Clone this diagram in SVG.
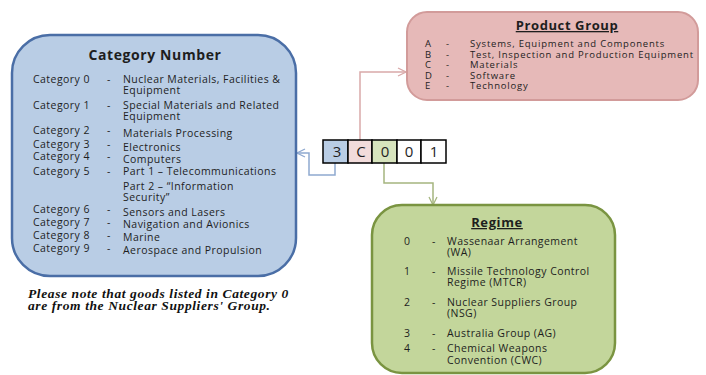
<svg xmlns="http://www.w3.org/2000/svg" width="706" height="375" viewBox="0 0 706 375">
<defs>
<style>
.t{font-family:"Open Sans","Liberation Sans",sans-serif;font-size:10.5px;letter-spacing:0.45px;fill:#1e1e1e}
.tp{font-family:"Open Sans","Liberation Sans",sans-serif;font-size:9.5px;letter-spacing:0.8px;fill:#1e1e1e}
.h{font-family:"Open Sans","Liberation Sans",sans-serif;font-size:14px;font-weight:bold;letter-spacing:0.6px;fill:#1e1e1e;text-anchor:middle}
.u{text-decoration:underline}
.d{font-family:"Open Sans","Liberation Sans",sans-serif;font-size:15px;fill:#1e1e1e;text-anchor:middle}
.cell{stroke:#000;stroke-width:1.5}
.note{font-family:"Liberation Serif","Times New Roman",serif;font-size:13.5px;font-weight:bold;font-style:italic;letter-spacing:0.6px;fill:#111}
.conn{fill:none;stroke-width:1.5}
</style>
<marker id="ab" viewBox="0 0 10 10" refX="9" refY="5" markerWidth="10" markerHeight="10" markerUnits="userSpaceOnUse" orient="auto"><path d="M1,1 L9,5 L1,9" fill="none" stroke="#8fa9d0" stroke-width="1.3"/></marker>
<marker id="ap" viewBox="0 0 10 10" refX="9" refY="5" markerWidth="10" markerHeight="10" markerUnits="userSpaceOnUse" orient="auto"><path d="M1,1 L9,5 L1,9" fill="none" stroke="#d9a9a9" stroke-width="1.3"/></marker>
<marker id="ag" viewBox="0 0 10 10" refX="9" refY="5" markerWidth="10" markerHeight="10" markerUnits="userSpaceOnUse" orient="auto"><path d="M1,1 L9,5 L1,9" fill="none" stroke="#a5b57f" stroke-width="1.3"/></marker>
</defs>
<rect width="706" height="375" fill="#fff"/>

<g id="connectors">
<path class="conn" stroke="#8fa9d0" d="M335,163 V175 H309 V153 H297" marker-end="url(#ab)"/>
<path class="conn" stroke="#d9a9a9" d="M360,140 V72 H406" marker-end="url(#ap)"/>
<path class="conn" stroke="#a5b57f" d="M384,163 V183 H433 V205" marker-end="url(#ag)"/>
</g>

<g id="category-number">
<rect x="12" y="35" width="284" height="241" rx="38" ry="38" fill="#b9cde5" stroke="#4a6ea6" stroke-width="2.5"/>
<text class="h" x="155" y="60">Category Number</text>
<text class="t" x="33" y="83">Category 0</text><text class="t" x="107" y="83">-</text><text class="t" x="123" y="83">Nuclear Materials, Facilities &amp;</text>
<text class="t" x="123" y="94">Equipment</text>
<text class="t" x="33" y="109">Category 1</text><text class="t" x="107" y="109">-</text><text class="t" x="123" y="109">Special Materials and Related</text>
<text class="t" x="123" y="120">Equipment</text>
<text class="t" x="33" y="134">Category 2</text><text class="t" x="107" y="134">-</text><text class="t" x="123" y="137">Materials Processing</text>
<text class="t" x="33" y="148">Category 3</text><text class="t" x="107" y="148">-</text><text class="t" x="123" y="151">Electronics</text>
<text class="t" x="33" y="160">Category 4</text><text class="t" x="107" y="160">-</text><text class="t" x="123" y="163">Computers</text>
<text class="t" x="33" y="175">Category 5</text><text class="t" x="107" y="175">-</text><text class="t" x="123" y="175">Part 1 – Telecommunications</text>
<text class="t" x="123" y="190">Part 2 – “Information</text>
<text class="t" x="123" y="201">Security”</text>
<text class="t" x="33" y="213">Category 6</text><text class="t" x="107" y="213">-</text><text class="t" x="123" y="216">Sensors and Lasers</text>
<text class="t" x="33" y="226">Category 7</text><text class="t" x="107" y="226">-</text><text class="t" x="123" y="228">Navigation and Avionics</text>
<text class="t" x="33" y="239">Category 8</text><text class="t" x="107" y="239">-</text><text class="t" x="123" y="241">Marine</text>
<text class="t" x="33" y="252">Category 9</text><text class="t" x="107" y="252">-</text><text class="t" x="123" y="254">Aerospace and Propulsion</text>
</g>

<g id="note">
<text class="note" x="28" y="298">Please note that goods listed in Category 0</text>
<text class="note" x="28" y="310">are from the Nuclear Suppliers' Group.</text>
</g>

<g id="product-group">
<rect x="407" y="12" width="291" height="88" rx="20" ry="20" fill="#e6b9b8" stroke="#d29b9a" stroke-width="2"/>
<text class="h u" x="567" y="30" style="font-size:13px">Product Group</text>
<text class="tp" x="425" y="47">A</text><text class="tp" x="446" y="47">-</text><text class="tp" x="470" y="47">Systems, Equipment and Components</text>
<text class="tp" x="425" y="57.5">B</text><text class="tp" x="446" y="57.5">-</text><text class="tp" x="470" y="57.5">Test, Inspection and Production Equipment</text>
<text class="tp" x="425" y="68">C</text><text class="tp" x="446" y="68">-</text><text class="tp" x="470" y="68">Materials</text>
<text class="tp" x="425" y="78.5">D</text><text class="tp" x="446" y="78.5">-</text><text class="tp" x="470" y="78.5">Software</text>
<text class="tp" x="425" y="89">E</text><text class="tp" x="446" y="89">-</text><text class="tp" x="470" y="89">Technology</text>
</g>

<g id="regime">
<rect x="372" y="205" width="243" height="168" rx="30" ry="30" fill="#c3d69b" stroke="#7a9441" stroke-width="2.5"/>
<text class="h u" x="497" y="227" style="font-size:13px">Regime</text>
<text class="t" x="404" y="245">0</text><text class="t" x="432" y="245">-</text><text class="t" x="447" y="245">Wassenaar Arrangement</text>
<text class="t" x="447" y="256">(WA)</text>
<text class="t" x="404" y="275">1</text><text class="t" x="432" y="275">-</text><text class="t" x="447" y="275">Missile Technology Control</text>
<text class="t" x="447" y="286">Regime (MTCR)</text>
<text class="t" x="404" y="306">2</text><text class="t" x="432" y="306">-</text><text class="t" x="447" y="306">Nuclear Suppliers Group</text>
<text class="t" x="447" y="317">(NSG)</text>
<text class="t" x="404" y="337">3</text><text class="t" x="432" y="337">-</text><text class="t" x="447" y="337">Australia Group (AG)</text>
<text class="t" x="404" y="352">4</text><text class="t" x="432" y="352">-</text><text class="t" x="447" y="352">Chemical Weapons</text>
<text class="t" x="447" y="364">Convention (CWC)</text>
</g>

<g id="code">
<rect class="cell" x="323" y="140" width="25" height="23" fill="#b9cde5"/>
<rect class="cell" x="348" y="140" width="24" height="23" fill="#f2dcdb"/>
<rect class="cell" x="372" y="140" width="25" height="23" fill="#d7e4bd"/>
<rect class="cell" x="397" y="140" width="24" height="23" fill="#fff"/>
<rect class="cell" x="421" y="140" width="25" height="23" fill="#fff"/>
<text class="d" x="337" y="157">3</text>
<text class="d" x="361" y="157">C</text>
<text class="d" x="385" y="157">0</text>
<text class="d" x="409" y="157">0</text>
<text class="d" x="434" y="157">1</text>
</g>
</svg>
